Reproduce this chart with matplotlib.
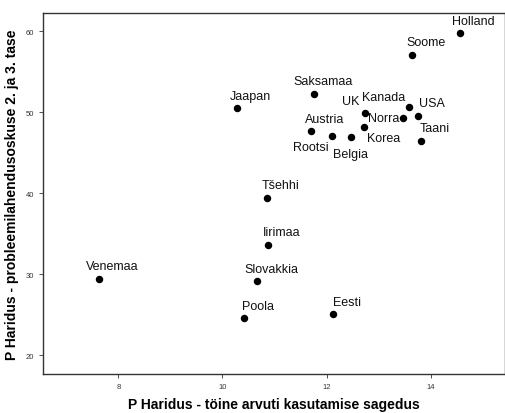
import matplotlib.pyplot as plt

plt.rcParams["font.family"] = ["Liberation Sans", "DejaVu Sans"]

# Data
countries = ["Holland", "Soome", "Saksamaa", "Jaapan", "UK", "Kanada", "USA", "Norra",
             "Korea", "Austria", "Rootsi", "Belgia", "Taani", "Tšehhi", "Iirimaa",
             "Venemaa", "Slovakkia", "Poola", "Eesti"]
computer_use = [14.56, 13.64, 11.76, 10.28, 12.73, 13.59, 13.75, 13.46,
                12.71, 11.70, 12.10, 12.47, 13.82, 10.86, 10.87,
                7.63, 10.67, 10.41, 12.12]
problem_solving = [59.75, 57.08, 52.26, 50.53, 49.96, 50.66, 49.55, 49.34,
                   48.23, 47.65, 47.08, 46.95, 46.46, 39.42, 33.62,
                   29.47, 29.14, 24.57, 25.06]

# label offsets in pixels (dx right, dy down), default is above-right
default_offset = (13.7, -12.5)
label_offsets = {
    "Saksamaa": (9.0, -12.7),
    "UK": (-14.3, -11.3),
    "Kanada": (-25.7, -10.3),
    "Norra": (-19.3, 0.7),
    "Korea": (20.3, 11.7),
    "Rootsi": (-21.3, 11.3),
    "Belgia": (-0.7, 17.3),
}

fig = plt.figure(figsize=(5.06, 4.14), dpi=100)
ax = fig.add_axes([0.0856, 0.0942, 0.913, 0.872])

ax.scatter(computer_use, problem_solving, s=19, color="black", zorder=3)

for name, x, y in zip(countries, computer_use, problem_solving):
    dx, dy = label_offsets.get(name, default_offset)
    ax.annotate(name, (x, y), xytext=(dx * 0.72, -dy * 0.72), textcoords="offset points",
                ha="center", va="center", fontsize=9, color="#111111")

ax.set_xlim(6.56, 15.43)
ax.set_ylim(17.69, 62.26)
ax.set_xticks([8, 10, 12, 14])
ax.set_yticks([20, 30, 40, 50, 60])

for side in ["top", "right", "left", "bottom"]:
    ax.spines[side].set_color("#333333")
    ax.spines[side].set_linewidth(1.0)
ax.tick_params(axis="both", labelsize=5.5, colors="#333333", length=3, width=0.6)

ax.set_xlabel("P Haridus - töine arvuti kasutamise sagedus", fontsize=10, fontweight="bold", labelpad=5)
ax.set_ylabel("P Haridus - probleemilahendusoskuse 2. ja 3. tase", fontsize=10, fontweight="bold", labelpad=5)

fig.savefig("out.png", dpi=100)
